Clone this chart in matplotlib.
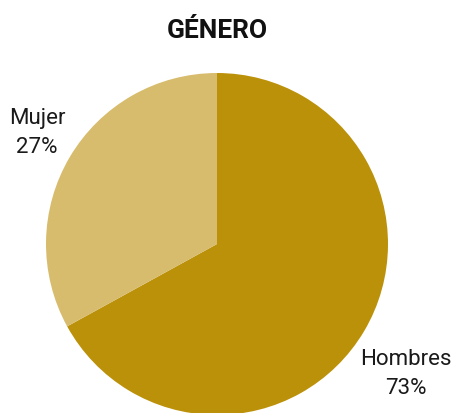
import matplotlib
matplotlib.use("Agg")
import matplotlib.pyplot as plt

title = "GÉNERO"
categories = ["Hombres", "Mujer"]
slice_shares = [67, 33]          # slice sizes as drawn in the picture
label_percents = [73, 27]        # percentages printed in the labels
colors = ["#BC910A", "#D8BC6D"]

plt.rcParams['font.family'] = ['Roboto', 'DejaVu Sans']

W, H = 454, 414
fig = plt.figure(figsize=(W / 100, H / 100), dpi=100)
fig.patch.set_facecolor("white")

cx, cy, r = 217, 245, 171
ax = fig.add_axes([(cx - r) / W, (H - cy - r) / H, 2 * r / W, 2 * r / H])
ax.pie(slice_shares, colors=colors, startangle=90, counterclock=False,
       wedgeprops=dict(linewidth=0))
ax.set_xlim(-1, 1)
ax.set_ylim(-1, 1)
ax.set_aspect("equal")
ax.axis("off")

label_pos = {"Hombres": (406, 374), "Mujer": (37, 133)}
for cat, pct in zip(categories, label_percents):
    x, y = label_pos[cat]
    fig.text(x / W, 1 - y / H, f"{cat}\n{pct}%", ha="center", va="center",
             fontsize=16, color="#1a1a1a", linespacing=1.45)

fig.text(cx / W, 1 - 31 / H, title, ha="center", va="center",
         fontsize=19, fontweight="bold", color="#111111")

fig.savefig("out.png", dpi=100)
